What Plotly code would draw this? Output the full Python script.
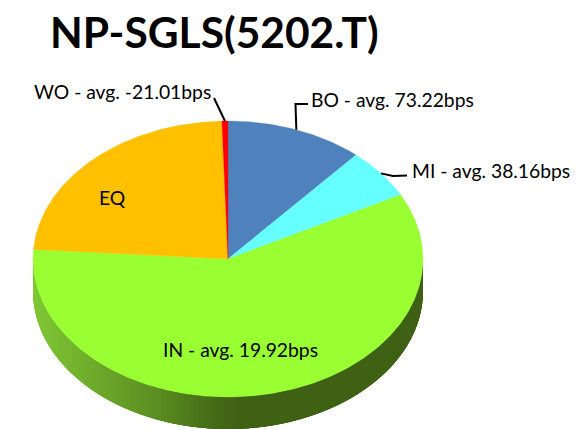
import math
import plotly.graph_objects as go

# Data (share of pie, %, clockwise from 12 o'clock)
categories = ["BO", "MI", "IN", "EQ", "WO"]
shares = [11.4, 5.9, 58.8, 23.4, 0.5]
averages = ["73.22", "38.16", "19.92", None, "-21.01"]
colors = ["#4f81bd", "#66ffff", "#99ff33", "#ffc000", "#ff0000"]
title = "NP-SGLS(5202.T)"

W, H = 580, 429
CX, CY, RX, RY, DEPTH = 228, 259, 195, 138, 32
SIDE_STOPS = [(33, (128, 200, 54)), (100, (108, 168, 42)), (160, (90, 140, 32)),
              (215, (68, 106, 22)), (240, (63, 97, 20)), (430, (63, 97, 20))]


def pt(deg):
    a = math.radians(deg)
    return CX + RX * math.sin(a), CY - RY * math.cos(a)


def side_color(x):
    for (x0, c0), (x1, c1) in zip(SIDE_STOPS, SIDE_STOPS[1:]):
        if x <= x1:
            t = max(0, (x - x0) / (x1 - x0))
            return "rgb(%d,%d,%d)" % tuple(round(a + (b - a) * t) for a, b in zip(c0, c1))
    return "rgb(63,97,20)"


fig = go.Figure()

# Side wall of the pie: overlapping strips painted right to left, so no seams show
STEP = 1
for d in range(90, 270, STEP):
    x1, y1 = pt(d)
    x2, y2 = pt(min(d + 4 * STEP, 270))
    xm = pt(d + STEP / 2)[0]
    col = side_color(xm)
    fig.add_trace(go.Scatter(x=[x1, x2, x2, x1, x1], y=[y1, y2, y2 + DEPTH, y1 + DEPTH, y1],
                             mode="lines", fill="toself", fillcolor=col,
                             line=dict(width=0), hoverinfo="skip", showlegend=False))

# Top face sectors
total = sum(shares)
start = 0.0
mids = {}
for name, share, col in zip(categories, shares, colors):
    sweep = share / total * 360
    n = max(2, int(sweep * 2))
    pts = [pt(start + sweep * i / n) for i in range(n + 1)]
    xs = [CX] + [p[0] for p in pts] + [CX]
    ys = [CY] + [p[1] for p in pts] + [CY]
    fig.add_trace(go.Scatter(x=xs, y=ys, mode="lines", fill="toself", fillcolor=col,
                             line=dict(color=col, width=0.3), name=name,
                             hoverinfo="name", showlegend=False))
    mids[name] = start + sweep / 2
    start += sweep

# Leader lines start on the computed rim points
leaders = {"BO": [(295.5, 104), (308, 104)], "MI": [(393, 176), (407, 175.5)], "WO": [(214, 98)]}
for name, tail in leaders.items():
    x0, y0 = pt(mids[name])
    fig.add_trace(go.Scatter(x=[x0] + [p[0] for p in tail], y=[y0] + [p[1] for p in tail],
                             mode="lines", line=dict(color="black", width=2),
                             hoverinfo="skip", showlegend=False))


def label(name):
    avg = averages[categories.index(name)]
    return f"{name} - avg. {avg}bps" if avg else name


FONT = "Lato, Carlito, sans-serif"
label_pos = {"WO": (122.5, 91), "BO": (392.5, 99), "MI": (490.5, 170), "EQ": (112, 197), "IN": (240.5, 349)}
annotations = [dict(x=x, y=y, text=label(n), showarrow=False, xref="x", yref="y",
                    xanchor="center", yanchor="middle",
                    font=dict(family=FONT, size=19.3, color="black"))
               for n, (x, y) in label_pos.items()]
annotations.append(dict(x=214, y=31, text=f"<b>{title}</b>", showarrow=False, xref="x", yref="y",
                        xanchor="center", yanchor="middle",
                        font=dict(family=FONT, size=42.5, color="black")))

fig.update_layout(width=W, height=H, margin=dict(l=0, r=0, t=0, b=0),
                  paper_bgcolor="white", plot_bgcolor="white", showlegend=False,
                  xaxis=dict(range=[0, W], visible=False, fixedrange=True),
                  yaxis=dict(range=[H, 0], visible=False, fixedrange=True),
                  annotations=annotations)

fig.write_html("out.html", post_script="document.body.style.margin='0';",
               config={"displayModeBar": False})
